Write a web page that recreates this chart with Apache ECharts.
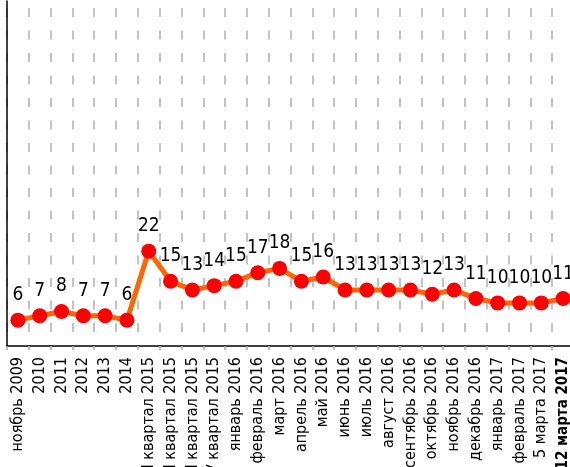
<!DOCTYPE html>
<html>
<head>
<meta charset="utf-8">
<script src="https://cdn.jsdelivr.net/npm/echarts@6/dist/echarts.min.js"></script>
<style>
  html, body { margin: 0; padding: 0; background: #fff; }
  #chart { width: 570px; height: 467px; }
</style>
</head>
<body>
<div id="chart"></div>
<script>
const categories = [
  'ноябрь 2009', '2010', '2011', '2012', '2013', '2014',
  'I квартал 2015', 'II квартал 2015', 'III квартал 2015', 'IV квартал 2015',
  'январь 2016', 'февраль 2016', 'март 2016', 'апрель 2016', 'май 2016',
  'июнь 2016', 'июль 2016', 'август 2016', 'сентябрь 2016', 'октябрь 2016',
  'ноябрь 2016', 'декабрь 2016', 'январь 2017', 'февраль 2017',
  '5 марта 2017', '12 марта 2017'
]
const values = [6, 7, 8, 7, 7, 6, 22, 15, 13, 14, 15, 17, 18, 15, 16, 13, 13, 13, 13, 12, 13, 11, 10, 10, 10, 11]
const boldCategory = '12 марта 2017'

const fontFamily = '"DejaVu Sans Condensed", "DejaVu Sans", sans-serif'

const chart = echarts.init(document.getElementById('chart'))
chart.setOption({
  animation: false,
  grid: {
    left: 7,
    right: -4,
    top: 1,
    bottom: 121,
    containLabel: false,
    outerBoundsMode: 'none'
  },
  xAxis: {
    type: 'category',
    data: categories,
    boundaryGap: true,
    axisLine: { lineStyle: { color: '#000', width: 1.5 } },
    axisTick: { show: true, length: 4, lineStyle: { color: '#aaa', width: 1.5 } },
    axisLabel: {
      interval: 0,
      rotate: 90,
      margin: 11,
      color: '#000',
      fontSize: 16,
      fontFamily,
      hideOverlap: false,
      formatter: (v) => v === boldCategory ? '{b|' + v + '}' : v,
      rich: {
        b: { fontWeight: 'bold', fontSize: 15, fontFamily, color: '#000' }
      }
    },
    splitLine: {
      show: true,
      interval: 0,
      lineStyle: { color: '#b0b0b0', width: 1.5, type: [9, 13.5], dashOffset: 15.5 }
    }
  },
  yAxis: {
    type: 'value',
    min: 0,
    max: 80,
    axisLine: { show: true, lineStyle: { color: '#000', width: 1.5 } },
    axisTick: { show: false },
    axisLabel: { show: false },
    splitLine: { show: false }
  },
  series: [{
    type: 'line',
    data: values,
    symbol: 'circle',
    symbolSize: 15,
    lineStyle: { color: '#ff6600', width: 5 },
    itemStyle: { color: '#ff0000' },
    label: {
      show: true,
      position: 'top',
      distance: 8,
      color: '#000',
      fontSize: 19,
      fontFamily
    }
  }]
})
</script>
</body>
</html>
